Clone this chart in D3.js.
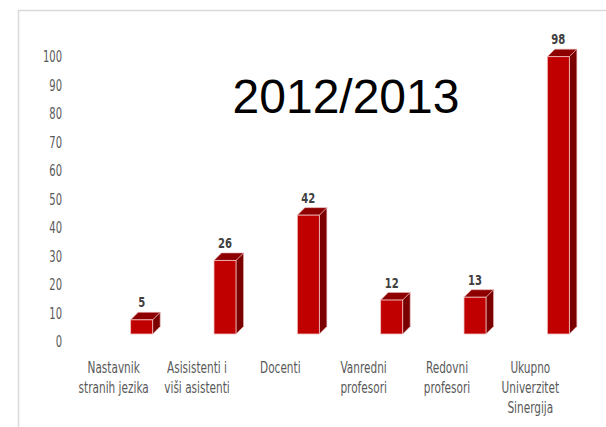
<!DOCTYPE html>
<html>
<head>
<meta charset="utf-8">
<script src="https://cdn.jsdelivr.net/npm/d3@7"></script>
<style>
  body { margin: 0; background: #fff; }
  svg { display: block; }
</style>
</head>
<body>
<svg id="chart" width="606" height="427"></svg>
<script>
// data
const categories = ["Nastavnik stranih jezika", "Asisistenti i viši asistenti", "Docenti", "Vanredni profesori", "Redovni profesori", "Ukupno Univerzitet Sinergija"];
const categoryLines = [["Nastavnik", "stranih jezika"], ["Asisistenti i", "viši asistenti"], ["Docenti"], ["Vanredni", "profesori"], ["Redovni", "profesori"], ["Ukupno", "Univerzitet", "Sinergija"]];
const values = [5, 26, 42, 12, 13, 98];
const tickValues = [0, 10, 20, 30, 40, 50, 60, 70, 80, 90, 100];
const title = "2012/2013";

const svg = d3.select("#chart");
// narrow labels: condensed face squeezed a bit more
const labelFont = "'Liberation Sans Narrow', 'DejaVu Sans Condensed', sans-serif";

// frame
svg.append("path")
  .attr("d", "M18.5,430 V10.5 H610")
  .attr("fill", "none")
  .attr("stroke", "#d9d9d9")
  .attr("stroke-width", 1.5);

// scales
let x = d3.scaleBand().domain(categories).range([72, 572]);
let yTick = d3.scaleLinear().domain([0, 100]).range([342, 57]);
let yBar = d3.scaleLinear().domain([0, 100]).range([334, 51]);

let barW = 22, depth = 7.5, shift = 28;

// y axis labels
let yAxis = d3.axisLeft(yTick).tickValues(tickValues).tickSize(0).tickPadding(0);
let gy = svg.append("g").attr("transform", "translate(62,0)").call(yAxis);
gy.select(".domain").remove();
gy.selectAll("text")
  .attr("fill", "#595959")
  .attr("transform", "scale(0.74,1)")
  .style("font-family", labelFont)
  .style("font-size", "15px");

// bars
let bars = svg.selectAll(".bar")
  .data(values)
  .enter()
  .append("g")
  .attr("class", "bar");

function left(d, i) { return x(categories[i]) + x.bandwidth() / 2 + shift - barW / 2; }

// side face
bars.append("path")
  .attr("d", function(d, i) {
    let x0 = left(d, i) + barW, yt = yBar(d), yb = yBar(0);
    return "M" + x0 + "," + yt + " L" + (x0 + depth) + "," + (yt - depth) +
      " L" + (x0 + depth) + "," + (yb - depth) + " L" + x0 + "," + yb + "Z";
  })
  .attr("fill", "#7a0000")
  .attr("stroke", "#e8b4b4")
  .attr("stroke-width", 0.6);

// top face
bars.append("path")
  .attr("d", function(d, i) {
    let x0 = left(d, i), yt = yBar(d);
    return "M" + x0 + "," + yt + " L" + (x0 + depth) + "," + (yt - depth) +
      " L" + (x0 + barW + depth) + "," + (yt - depth) + " L" + (x0 + barW) + "," + yt + "Z";
  })
  .attr("fill", "#8e0000")
  .attr("stroke", "#e8b4b4")
  .attr("stroke-width", 0.6);

// front face
bars.append("rect")
  .attr("x", function(d, i) { return left(d, i); })
  .attr("y", function(d) { return yBar(d); })
  .attr("width", barW)
  .attr("height", function(d) { return yBar(0) - yBar(d); })
  .attr("fill", "#c00000")
  .attr("stroke", "#f2c4c4")
  .attr("stroke-width", 0.8);

// value labels
bars.append("text")
  .attr("transform", function(d, i) {
    return "translate(" + (left(d, i) + barW / 2) + "," + (yBar(d) - depth - 5) + ") scale(0.8,1)";
  })
  .attr("text-anchor", "middle")
  .attr("fill", "#404040")
  .style("font-family", labelFont)
  .style("font-size", "14px")
  .style("font-weight", "bold")
  .text(function(d) { return d; });

// category labels
let cats = svg.selectAll(".cat")
  .data(categoryLines)
  .enter()
  .append("text")
  .attr("class", "cat")
  .attr("transform", function(d, i) {
    return "translate(" + (x(categories[i]) + x.bandwidth() / 2) + ",0) scale(0.78,1)";
  })
  .attr("text-anchor", "middle")
  .attr("fill", "#595959")
  .style("font-family", labelFont)
  .style("font-size", "15px");

cats.selectAll("tspan")
  .data(function(d) { return d; })
  .enter()
  .append("tspan")
  .attr("x", 0)
  .attr("y", function(d, j) { return 373.5 + j * 19.7; })
  .text(function(d) { return d; });

// title
svg.append("text")
  .attr("x", 346)
  .attr("y", 113)
  .attr("text-anchor", "middle")
  .attr("fill", "#000")
  .style("font-family", "'Liberation Sans', Arial, sans-serif")
  .style("font-size", "48px")
  .text(title);
</script>
</body>
</html>
